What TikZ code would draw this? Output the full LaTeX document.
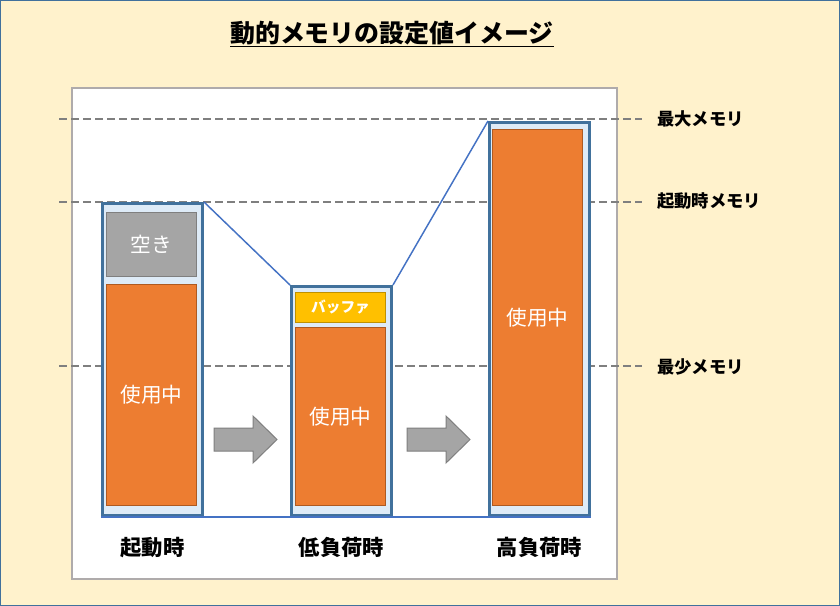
\documentclass[tikz,border=0pt]{standalone}
\usepackage{fontspec}
\setmainfont{Noto Sans CJK JP}
\usetikzlibrary{positioning}
\definecolor{bgyellow}{HTML}{FFF2CC}
\definecolor{frameblue}{HTML}{41719C}
\definecolor{panelgray}{HTML}{AFABAB}
\definecolor{barfill}{HTML}{DEEBF7}
\definecolor{linkblue}{HTML}{4472C4}
\definecolor{usedorange}{HTML}{ED7D31}
\definecolor{usededge}{HTML}{AE5A21}
\definecolor{freegray}{HTML}{A5A5A5}
\definecolor{freeedge}{HTML}{7F7F7F}
\definecolor{bufyellow}{HTML}{FFC000}
\definecolor{bufedge}{HTML}{BF9000}
\tikzset{
  outerbar/.style={draw=frameblue,line width=2.25pt,fill=barfill,anchor=north west,
    minimum width=75pt,inner sep=0pt},
  usedbox/.style={draw=usededge,line width=0.75pt,fill=usedorange,text=white,anchor=north west,
    minimum width=67.5pt,inner sep=0pt,font=\fontsize{15.5}{18}\selectfont},
  freebox/.style={usedbox,draw=freeedge,fill=freegray},
  bufbox/.style={usedbox,draw=bufedge,fill=bufyellow,font=\fontsize{11}{13}\bfseries\selectfont},
  guide/.style={draw=freeedge,line width=1.5pt,dash pattern=on 6pt off 3pt},
  link/.style={draw=linkblue,line width=1.1pt},
  shiftarrow/.style={draw=freeedge,line width=0.75pt,fill=freegray},
  memlabel/.style={anchor=west,inner sep=0pt,font=\fontsize{13}{15}\bfseries\selectfont},
  phase/.style={inner sep=0pt,font=\fontsize{16}{19}\bfseries\selectfont}
}
\begin{document}
\begin{tikzpicture}[x=0.75pt,y=-0.75pt]
  \useasboundingbox (0,0) rectangle (840,606);
  % background and panel
  \draw[fill=bgyellow,draw=frameblue,line width=1.1pt] (0.75,0.75) rectangle (839.25,605.25);
  \draw[fill=white,draw=panelgray,line width=1.1pt] (72,88) rectangle (617,579);
  \node[font=\fontsize{18.7}{22}\bfseries\selectfont] (title) at (392,34) {\underline{動的メモリの設定値イメージ}};

  % memory levels
  \coordinate (maxstart) at (59,119);
  \coordinate (bootstart) at (59,202);
  \coordinate (minstart) at (59,366);
  \node[memlabel] (maxlbl) at (657,119) {最大メモリ};
  \node[memlabel] (bootlbl) at (657,201) {起動時メモリ};
  \node[memlabel] (minlbl) at (657,367) {最少メモリ};
  \draw[guide,shorten >=11pt] (maxstart) -- (maxstart -| maxlbl.west);
  \draw[guide,shorten >=11pt] (bootstart) -- (bootstart -| bootlbl.west);
  \draw[guide,shorten >=11pt] (minstart) -- (minstart -| minlbl.west);

  % bars
  \node[outerbar,minimum height=234pt] (bar1) at (101,202) {};
  \node[outerbar,minimum height=171.75pt] (bar2) at (290,285) {};
  \node[outerbar,minimum height=294.75pt] (bar3) at (488,121) {};
  \node[freebox,minimum height=48pt] (free1) at (106,212) {空き};
  \node[usedbox,minimum height=165.75pt] (used1) at (106,284) {使用中};
  \node[bufbox,minimum height=22.5pt] (buf2) at (295,292) {バッファ};
  \node[usedbox,minimum height=133.5pt] (used2) at (295,327) {使用中};
  \node[usedbox,minimum height=282pt] (used3) at (492,129) {使用中};

  % connectors
  \draw[link] (bar1.north east) -- (bar2.north west);
  \draw[link] (bar2.north east) -- (bar3.north west);
  \draw[link] (bar1.south west) -- (bar3.south east);

  % transitions
  \draw[shiftarrow] (214,428) -- (253,428) -- (253,416) -- (277,439.5) -- (253,463) -- (253,451) -- (214,451) -- cycle;
  \draw[shiftarrow] (407,428) -- (446,428) -- (446,416) -- (470,439.5) -- (446,463) -- (446,451) -- (407,451) -- cycle;

  \node[phase,below=15pt of bar1] (boot) {起動時};
  \node[phase,below=15pt of bar2] (low) {低負荷時};
  \node[phase,below=15pt of bar3] (high) {高負荷時};
\end{tikzpicture}
\end{document}
